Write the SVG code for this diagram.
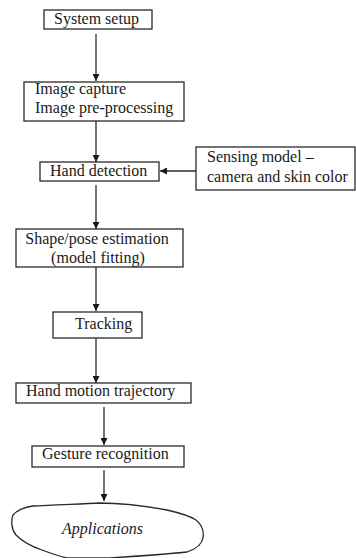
<svg xmlns="http://www.w3.org/2000/svg" width="356" height="558" viewBox="0 0 356 558">
<style>
.box{fill:#fff;stroke:#2a2a2a;stroke-width:1.3}
.t{font-family:"Liberation Serif","Times New Roman",serif;font-size:16px;fill:#1a1a1a}
.c{stroke:#2a2a2a;stroke-width:1.3;fill:none}
</style>
<defs>
<marker id="ah" viewBox="0 0 10 10" refX="10" refY="5" markerWidth="7" markerHeight="7" markerUnits="userSpaceOnUse" orient="auto">
<path d="M0,0 L10,5 L0,10 z" fill="#1a1a1a"/>
</marker>
</defs>
<rect width="356" height="558" fill="#fff"/>
<g id="connectors">
<line class="c" x1="96" y1="34" x2="96" y2="81" marker-end="url(#ah)"/>
<line class="c" x1="96" y1="121" x2="96" y2="162" marker-end="url(#ah)"/>
<line class="c" x1="196" y1="171" x2="160" y2="171" marker-end="url(#ah)"/>
<line class="c" x1="96" y1="185" x2="96" y2="229" marker-end="url(#ah)"/>
<line class="c" x1="96" y1="267" x2="96" y2="311" marker-end="url(#ah)"/>
<line class="c" x1="96" y1="338" x2="96" y2="383" marker-end="url(#ah)"/>
<line class="c" x1="104" y1="407" x2="104" y2="445" marker-end="url(#ah)"/>
<line class="c" x1="104" y1="470" x2="104" y2="501" marker-end="url(#ah)"/>
</g>
<g id="system-setup">
<rect class="box" x="44" y="10" width="108" height="19"/>
<text class="t" x="54" y="24">System setup</text>
</g>
<g id="image-capture">
<rect class="box" x="24" y="82" width="160" height="39"/>
<text class="t" x="35" y="94">Image capture</text>
<text class="t" x="35" y="113">Image pre-processing</text>
</g>
<g id="hand-detection">
<rect class="box" x="40" y="162" width="119" height="19"/>
<text class="t" x="50" y="176">Hand detection</text>
</g>
<g id="sensing-model">
<rect class="box" x="196" y="147" width="159" height="43"/>
<text class="t" x="207" y="162">Sensing model –</text>
<text class="t" x="207" y="182">camera and skin color</text>
</g>
<g id="shape-pose">
<rect class="box" x="16" y="229" width="167" height="38"/>
<text class="t" x="97" y="244" text-anchor="middle">Shape/pose estimation</text>
<text class="t" x="98" y="263" text-anchor="middle">(model fitting)</text>
</g>
<g id="tracking">
<rect class="box" x="53" y="312" width="89" height="26"/>
<text class="t" x="75" y="329">Tracking</text>
</g>
<g id="hand-motion">
<rect class="box" x="16" y="383" width="175" height="20"/>
<text class="t" x="26" y="396">Hand motion trajectory</text>
</g>
<g id="gesture-recognition">
<rect class="box" x="32" y="446" width="152" height="21"/>
<text class="t" x="42" y="459">Gesture recognition</text>
</g>
<g id="applications">
<path class="box" d="M13,515 C16,511 24,507 33,506 C50,505 80,504 100,503 C120,503 145,506 167,510 C180,513 190,516 196,520 C202,525 204,532 203,538 C202,544 196,549 187,552 C170,554 140,556 110,558 L67,558 C58,556 50,553 42,550 C33,547 22,541 16,535 C11,529 11,520 13,515 Z"/>
<text class="t" x="62" y="534" font-style="italic">Applications</text>
</g>
</svg>
